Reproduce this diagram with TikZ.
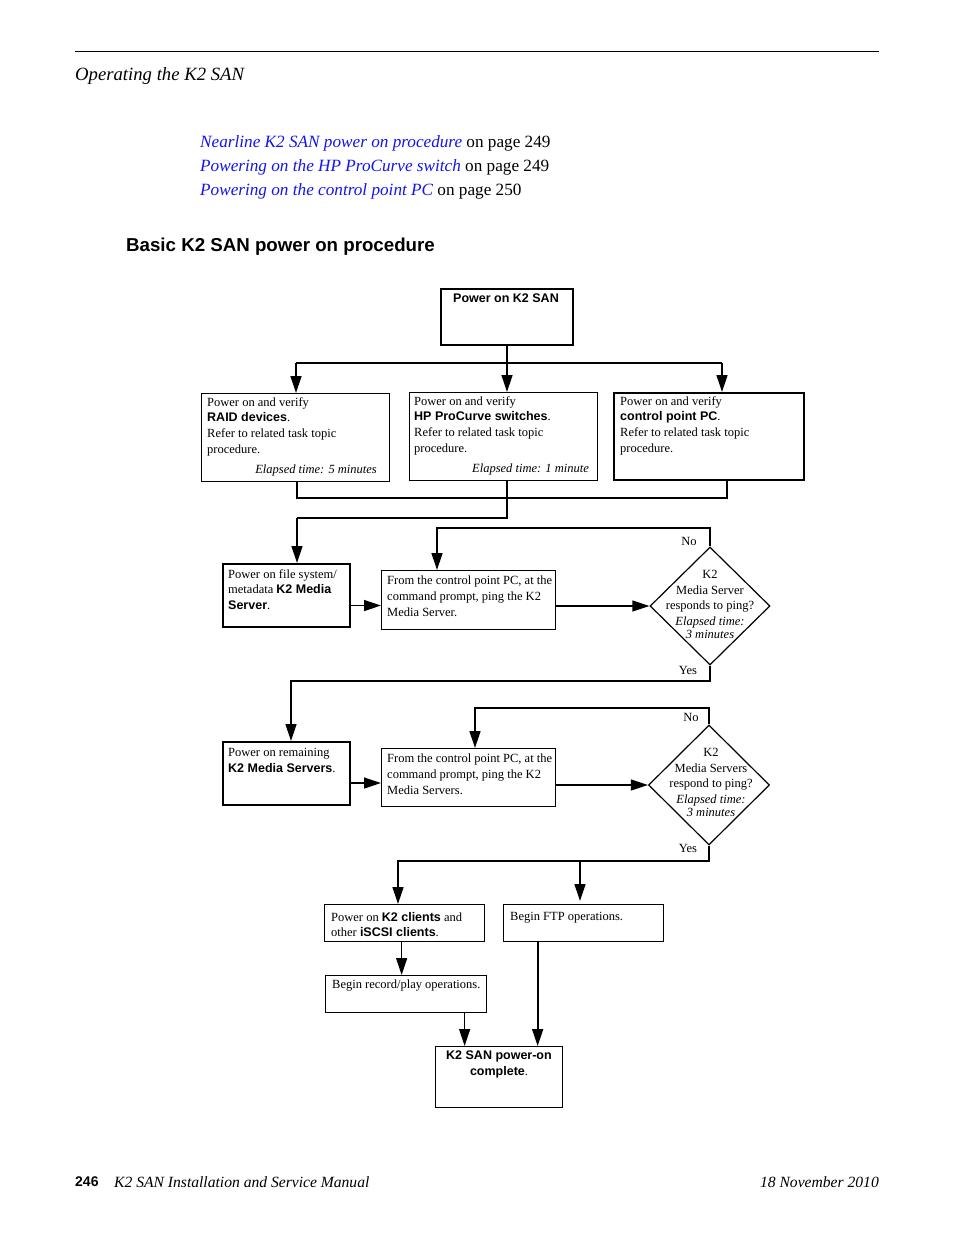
\documentclass[tikz,border=0pt]{standalone}
\usepackage{fontspec}
\setmainfont{Liberation Serif}
\setsansfont{Liberation Sans}
\usetikzlibrary{arrows.meta,shapes.geometric}
\definecolor{linkblue}{RGB}{20,20,240}
\newcommand\bt{\fontsize{12.5}{15.7}\selectfont}
\newcommand\bodyf{\fontsize{18.7}{24}\selectfont}
\newcommand\linkf{\fontsize{17.2}{24}\selectfont}
\newcommand\bs[1]{{\sffamily\bfseries #1}}
\begin{document}
\begin{tikzpicture}[x=1pt,y=-1pt,
  conn/.style={line width=1.3pt},
  arr/.style={line width=1.3pt,-{Triangle[length=17pt,width=11pt]}},
  box/.style={draw,line width=1.3pt,anchor=north west,inner sep=0pt},
  thickbox/.style={box,line width=2pt},
  dia/.style={draw,diamond,line width=1.2pt,inner sep=0pt},
  txt/.style={inner sep=0pt,align=left,font=\bt,anchor=north west},
  ctxt/.style={inner sep=0pt,align=center,font=\bt,anchor=north},
  etxt/.style={inner sep=0pt,font=\bt\itshape,anchor=east},
  lbl/.style={inner sep=0pt,font=\bt}]
\useasboundingbox (0,0) rectangle (954,1235);
\fill[white] (0,0) rectangle (954,1235);

% page furniture
\coordinate (r1) at (75,51);
\coordinate (r2) at (879,51);
\draw[line width=1pt] (r1) -- (r2);
\node[inner sep=0pt,anchor=west,font=\bodyf\itshape] (hdr) at (75,76) {Operating the K2 SAN};
\node[inner sep=0pt,anchor=west,font=\linkf] (l1) at (200,143) {\textcolor{linkblue}{\itshape Nearline K2 SAN power on procedure} on page 249};
\node[inner sep=0pt,anchor=west,font=\linkf] (l2) at (200,167) {\textcolor{linkblue}{\itshape Powering on the HP ProCurve switch} on page 249};
\node[inner sep=0pt,anchor=west,font=\linkf] (l3) at (200,191) {\textcolor{linkblue}{\itshape Powering on the control point PC} on page 250};
\node[inner sep=0pt,anchor=west,font=\fontsize{18.7}{24}\selectfont\sffamily\bfseries] (ttl) at (126,247) {Basic K2 SAN power on procedure};
\node[inner sep=0pt,anchor=west,font=\fontsize{14}{16}\selectfont\sffamily\bfseries] (pg) at (75,1182) {246};
\node[inner sep=0pt,anchor=west,font=\fontsize{15.6}{18}\selectfont\itshape] (man) at (114,1182) {K2 SAN Installation and Service Manual};
\node[inner sep=0pt,anchor=east,font=\fontsize{15.6}{18}\selectfont\itshape] (date) at (879,1182) {18 November 2010};

% boxes
\node[thickbox,minimum width=132pt,minimum height=56pt] (top) at (440,288) {};
\node[ctxt] (topt) at (506,294) {\bs{Power on K2 SAN}};

\node[box,minimum width=188pt,minimum height=88pt] (raid) at (201,393) {};
\node[txt] (raidt) at (207,397) {Power on and verify\\ \bs{RAID devices}.\\ Refer to related task topic\\ procedure.};
\node[etxt] (raide) at (377,470) {Elapsed time: 5 minutes};

\node[box,minimum width=188pt,minimum height=88pt] (hp) at (409,392) {};
\node[txt] (hpt) at (414,396) {Power on and verify\\ \bs{HP ProCurve switches}.\\ Refer to related task topic\\ procedure.};
\node[etxt] (hpe) at (589,469) {Elapsed time: 1 minute};

\node[thickbox,minimum width=190pt,minimum height=87pt] (cpc) at (613,392) {};
\node[txt] (cpct) at (620,396) {Power on and verify\\ \bs{control point PC}.\\ Refer to related task topic\\ procedure.};

\node[thickbox,minimum width=127pt,minimum height=63pt] (fs) at (222,563) {};
\node[txt] (fst) at (228,569) {Power on file system/\\ metadata \bs{K2 Media}\\ \bs{Server}.};

\node[box,minimum width=174pt,minimum height=59pt] (ping1) at (381,570) {};
\node[txt] (ping1t) at (387,576) {From the control point PC, at the\\ command prompt, ping the K2\\ Media Server.};

\node[dia,minimum width=120pt,minimum height=118pt] (dia1) at (710,606) {};
\node[ctxt] (dia1t) at (710,570) {K2\\ Media Server\\ responds to ping?\\ \textit{Elapsed time:}\\[-2.5pt] \textit{3 minutes}};

\node[thickbox,minimum width=127pt,minimum height=63pt] (rem) at (222,741) {};
\node[txt] (remt) at (228,748) {Power on remaining\\ \bs{K2 Media Servers}.};

\node[box,minimum width=174pt,minimum height=58pt] (ping2) at (381,748) {};
\node[txt] (ping2t) at (387,754) {From the control point PC, at the\\ command prompt, ping the K2\\ Media Servers.};

\node[dia,minimum width=121pt,minimum height=120pt] (dia2) at (709,785) {};
\node[ctxt] (dia2t) at (711,748) {K2\\ Media Servers\\ respond to ping?\\ \textit{Elapsed time:}\\[-2.5pt] \textit{3 minutes}};

\node[box,minimum width=160pt,minimum height=37pt] (cli) at (324,904) {};
\node[txt] (clit) at (331,912) {Power on \bs{K2 clients} and\\ other \bs{iSCSI clients}.};

\node[box,minimum width=160pt,minimum height=37pt] (ftp) at (503,904) {};
\node[txt] (ftpt) at (510,912) {Begin FTP operations.};

\node[box,minimum width=161pt,minimum height=37pt] (rec) at (325,975) {};
\node[txt] (rect) at (332,980) {Begin record/play operations.};

\node[box,minimum width=127pt,minimum height=61pt] (done) at (435,1046) {};
\node[ctxt] (donet) at (499,1051) {\bs{K2 SAN power-on}\\ \bs{complete}.};

% labels
\node[lbl] (no1) at (689,541) {No};
\node[lbl] (yes1) at (688,670) {Yes};
\node[lbl] (no2) at (691,717) {No};
\node[lbl] (yes2) at (688,848) {Yes};

% connectors: top fan-out
\coordinate (j0) at (507,363);
\coordinate (jl) at (296,363);
\coordinate (jr) at (722,363);
\draw[conn] (top.south -| j0) -- (j0);
\draw[conn] (jl) -- (jr);
\draw[arr] (jl) -- (jl |- raid.north);
\draw[arr] (j0) -- (j0 |- hp.north);
\draw[arr] (jr) -- (jr |- cpc.north);

% merge
\coordinate (m1) at (297,498);
\coordinate (m2) at (727,498);
\coordinate (m3) at (507,518);
\coordinate (m4) at (297,518);
\draw[conn] (raid.south -| m1) -- (m1) -- (m2) -- (m2 |- cpc.south);
\draw[conn] (hp.south -| m3) -- (m3) -- (m4);
\draw[arr] (m4) -- (m4 |- fs.north);

% row 2
\draw[arr] ([yshift=-10pt]fs.east) -- ([yshift=-10pt]fs.east -| ping1.west);
\draw[arr] (ping1.east |- dia1.west) -- (dia1.west);
\coordinate (n1a) at (710,528);
\coordinate (n1b) at (437,528);
\draw[arr] (dia1.north) -- (n1a) -- (n1b) -- (n1b |- ping1.north);
\coordinate (y1a) at (710,681);
\coordinate (y1b) at (291,681);
\draw[arr] (dia1.south) -- (y1a) -- (y1b) -- (y1b |- rem.north);

% row 3
\draw[arr] ([yshift=-9.5pt]rem.east) -- ([yshift=-9.5pt]rem.east -| ping2.west);
\draw[arr] (ping2.east |- dia2.west) -- (dia2.west);
\coordinate (n2a) at (709,708);
\coordinate (n2b) at (475,708);
\draw[arr] (dia2.north) -- (n2a) -- (n2b) -- (n2b |- ping2.north);
\coordinate (y2a) at (709,861);
\coordinate (y2b) at (398,861);
\coordinate (y2c) at (580,861);
\draw[arr] (dia2.south) -- (y2a) -- (y2b) -- (y2b |- cli.north);
\draw[arr] (y2c) -- ([yshift=3pt]y2c |- ftp.north);

% row 4
\draw[arr] ([xshift=-3pt]cli.south) -- ([xshift=-3pt]cli.south |- rec.north);
\draw[arr] ([xshift=58.5pt]rec.south) -- ([xshift=58.5pt]rec.south |- done.north);
\draw[arr,line width=1.8pt] ([xshift=-46pt]ftp.south) -- ([xshift=-46pt]ftp.south |- done.north);
\end{tikzpicture}
\end{document}
